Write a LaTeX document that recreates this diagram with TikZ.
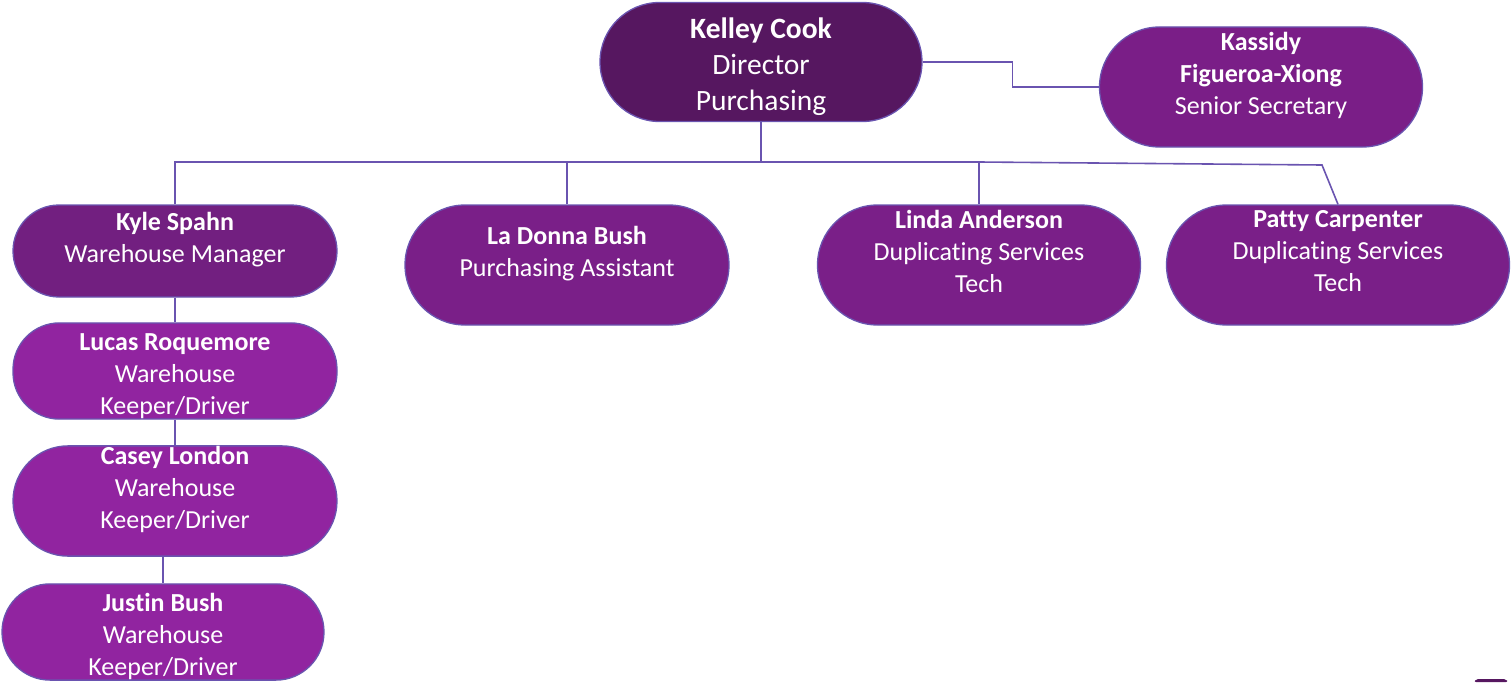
\documentclass[tikz,border=0pt]{standalone}
\usepackage{fontspec}
\setmainfont[Ligatures=NoCommon]{Carlito}
\definecolor{dirfill}{RGB}{86,23,96}
\definecolor{secfill}{RGB}{122,30,135}
\definecolor{mgrfill}{RGB}{114,31,128}
\definecolor{stafffill}{RGB}{122,31,136}
\definecolor{whfill}{RGB}{145,36,160}
\definecolor{orgline}{RGB}{106,84,176}
\newcommand{\padline}{\\[-4pt]\mbox{}}
\newcommand{\toppad}[1]{\rule{0pt}{#1}}
\tikzset{
  person/.style={draw=orgline, line width=1.3pt, text=white, align=center,
    inner sep=0pt, minimum width=324pt, minimum height=#1, rounded corners=#1/2,
    font=\fontsize{26}{32}\selectfont},
  link/.style={draw=orgline, line width=1.6pt}
}
\begin{document}
\begin{tikzpicture}[x=1pt, y=-1pt]
    \useasboundingbox (0,0) rectangle (1511,682);

    \node (cook) [person=119pt, fill=dirfill, minimum width=322pt, font=\fontsize{29.5}{36}\selectfont] at (761,62) {\toppad{31pt}\textbf{Kelley Cook}\\Director\\Purchasing};
    \node (figueroa) [person=120pt, fill=secfill, minimum width=323pt] at (1261,87) {\textbf{Kassidy}\\\textbf{Figueroa-Xiong}\\Senior Secretary\padline};

    \node (spahn) [person=92pt, fill=mgrfill] at (175,251) {\textbf{Kyle Spahn}\\Warehouse Manager\padline};
    \node (bush) [person=120pt, fill=stafffill] at (567,265) {\textbf{La Donna Bush}\\Purchasing Assistant\padline};
    \node (anderson) [person=120pt, fill=stafffill, minimum width=323pt] at (979,265) {\textbf{Linda Anderson}\\Duplicating Services\\Tech\padline};
    \node (carpenter) [person=120pt, fill=stafffill, minimum width=343pt] at (1338,265) {\textbf{Patty Carpenter}\\Duplicating Services\\Tech\padline};

    \node (roquemore) [person=93pt, fill=whfill] at (175,371) {\toppad{28pt}\textbf{Lucas Roquemore}\\Warehouse\\Keeper/Driver};
    \node (london) [person=110pt, fill=whfill] at (175,501) {\textbf{Casey London}\\Warehouse\\Keeper/Driver\padline};
    \node (justin) [person=96pt, fill=whfill, minimum width=322pt] at (163,632) {\toppad{28pt}\textbf{Justin Bush}\\Warehouse\\Keeper/Driver};

    % connectors
    \coordinate (bus) at (761,162);
    \coordinate (kink) at (1322,165);
    \draw[link] (cook) -- (bus);
    \draw[link] (spahn.north) |- (anderson.north |- bus) -- (anderson.north);
    \draw[link] (bush.north) -- (bush.north |- bus);
    \draw[link] (anderson.north |- bus) -- (kink) -- (carpenter.north);
    \draw[link] (cook.east) -- ++(90,0) |- (figueroa.west);
    \draw[link] (spahn) -- (roquemore);
    \draw[link] (roquemore) -- (london);
    \draw[link] (justin.north |- london.south) -- (justin.north);

    % edge of a shape cut off at the corner
    \fill[dirfill, rounded corners=2pt] (1474,682) -- (1476,679) -- (1506,679) -- (1508,682) -- cycle;
\end{tikzpicture}
\end{document}
